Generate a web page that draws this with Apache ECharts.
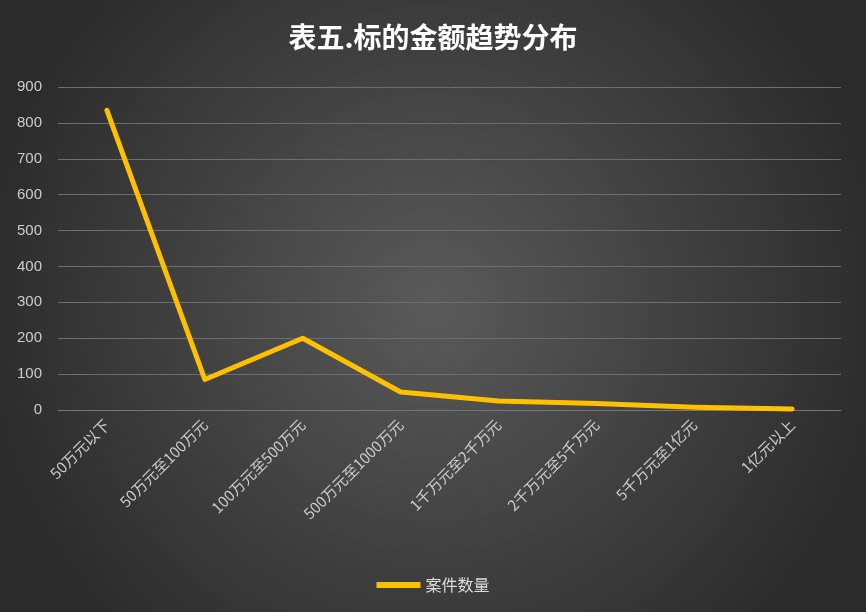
<!DOCTYPE html>
<html><head><meta charset="utf-8">
<script src="https://cdn.jsdelivr.net/npm/echarts@6/dist/echarts.min.js"></script>
<style>html,body{margin:0;padding:0;}#c{width:866px;height:612px;}</style>
</head><body><div id="c"></div>
<script>
const categories = ['50万元以下','50万元至100万元','100万元至500万元','500万元至1000万元','1千万元至2千万元','2千万元至5千万元','5千万元至1亿元','1亿元以上'];
const values = [835, 85, 200, 50, 25, 18, 8, 3];
const seriesName = '案件数量';
const chart = echarts.init(document.getElementById('c'));
chart.setOption({
  backgroundColor: {type:'radial', x:0.5, y:0.5, r:0.75, colorStops:[{offset:0,color:'#5a5a5a'},{offset:1,color:'#2b2b2b'}]},
  title: {text:'表五.标的金额趋势分布', left:'center', top:18, textStyle:{color:'#fff', fontSize:28, fontWeight:'bold', fontFamily:'Noto Sans CJK SC'}},
  legend: {bottom:14, left:'center', itemWidth:44, itemHeight:6, icon:'rect', textStyle:{color:'#ddd', fontSize:16, fontFamily:'Noto Sans CJK SC'}, data:[seriesName]},
  grid: {left:58, right:25, top:87, bottom:202},
  xAxis: {type:'category', data:categories, boundaryGap:true,
    axisLine:{lineStyle:{color:'#777'}}, axisTick:{show:false},
    axisLabel:{rotate:45, color:'#ccc', fontSize:15, fontFamily:'Noto Sans CJK SC', interval:0, margin:12}},
  yAxis: {type:'value', min:0, max:900, interval:100,
    axisLine:{show:false}, axisTick:{show:false},
    splitLine:{lineStyle:{color:'#6e6e6e'}},
    axisLabel:{color:'#ccc', fontSize:15, margin:16}},
  series: [{name:seriesName, type:'line', data:values, symbol:'none', smooth:false,
    lineStyle:{color:'#ffc000', width:5, cap:'round', join:'round'}, itemStyle:{color:'#ffc000'}}]
});
</script></body></html>
